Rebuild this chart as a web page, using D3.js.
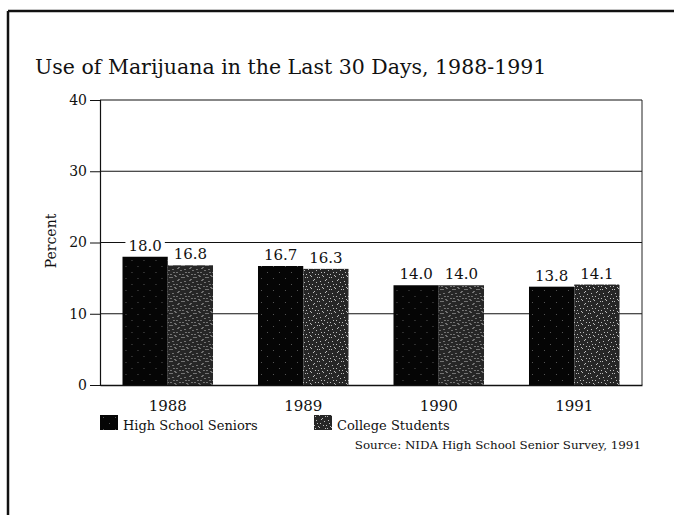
<!DOCTYPE html>
<html>
<head>
<meta charset="utf-8">
<script src="https://cdn.jsdelivr.net/npm/d3@7"></script>
<style>
  html, body { margin: 0; padding: 0; background: #fff; }
  svg { display: block; }
  text { font-family: "DejaVu Serif", "Liberation Serif", serif; fill: #111; }
</style>
</head>
<body>
<svg id="chart" width="674" height="515"></svg>
<script>
// Survey years and the two surveyed groups
const years = ["1988", "1989", "1990", "1991"];
const groups = ["High School Seniors", "College Students"];
// Percent reporting use in the last 30 days
const highSchoolSeniors = [18.0, 16.7, 14.0, 13.8];
const collegeStudents = [16.8, 16.3, 14.0, 14.1];
const yTicks = [0, 10, 20, 30, 40];

const title = "Use of Marijuana in the Last 30 Days, 1988-1991";
const yLabel = "Percent";
const source = "Source:  NIDA High School Senior Survey, 1991";

const svg = d3.select("#chart");
const plot = { left: 100, right: 642, top: 100, bottom: 385 };

// Speckled textures for the two bar fills
const defs = svg.append("defs");
function speckle(id, base, dots, color) {
  const p = defs.append("pattern").attr("id", id)
    .attr("patternUnits", "userSpaceOnUse").attr("width", 12).attr("height", 12);
  p.append("rect").attr("width", 12).attr("height", 12).attr("fill", base);
  dots.forEach(([x, y]) => p.append("rect").attr("x", x).attr("y", y)
    .attr("width", 1).attr("height", 1).attr("fill", color));
}
speckle("hsFill", "#050505", [[3, 2], [9, 8]], "#555");
speckle("csFill", "#262626", [[1, 1], [5, 0], [8, 3], [2, 5], [10, 6], [6, 8], [0, 10], [4, 11], [9, 10], [7, 4], [11, 1], [3, 8]], "#bdbdbd");
const fills = ["url(#hsFill)", "url(#csFill)"];

// Outer frame (top and left edges)
svg.append("line").attr("x1", 8).attr("x2", 674).attr("y1", 11).attr("y2", 11)
  .attr("stroke", "#111").attr("stroke-width", 2.5);
svg.append("line").attr("x1", 8).attr("x2", 8).attr("y1", 11).attr("y2", 515)
  .attr("stroke", "#111").attr("stroke-width", 2.5);

const x0 = d3.scaleBand().domain(years).range([plot.left, plot.right])
  .paddingInner(0.332).paddingOuter(0.166);
const x1 = d3.scaleBand().domain(groups).range([0, x0.bandwidth()]);
const y = d3.scaleLinear().domain([0, 40]).range([plot.bottom, plot.top]);

// Horizontal rules at each tick
svg.append("g").selectAll("line").data(yTicks.slice(1)).join("line")
  .attr("x1", plot.left).attr("x2", plot.right)
  .attr("y1", d => y(d)).attr("y2", d => y(d))
  .attr("stroke", "#111").attr("stroke-width", 1.2);

// Right edge of the plot box
svg.append("line").attr("x1", plot.right).attr("x2", plot.right)
  .attr("y1", y(40)).attr("y2", y(0)).attr("stroke", "#222").attr("stroke-width", 1);

// Bars
const rows = years.map((yr, i) => ({ year: yr, values: [highSchoolSeniors[i], collegeStudents[i]] }));
const grp = svg.append("g").selectAll("g").data(rows).join("g")
  .attr("transform", d => `translate(${x0(d.year)},0)`);
grp.selectAll("rect.bar").data(d => d.values.map((v, k) => ({ v, k }))).join("rect")
  .attr("class", "bar")
  .attr("x", d => x1(groups[d.k])).attr("width", x1.bandwidth())
  .attr("y", d => y(d.v)).attr("height", d => y(0) - y(d.v))
  .attr("fill", d => fills[d.k]);

// Value labels on a white backing so rules are knocked out behind them
const labels = grp.selectAll("g.lab").data(d => d.values.map((v, k) => ({ v, k }))).join("g")
  .attr("class", "lab");
labels.append("text")
  .attr("x", d => x1(groups[d.k]) + x1.bandwidth() / 2)
  .attr("y", d => y(d.v) - 6)
  .attr("text-anchor", "middle").attr("font-size", 15)
  .text(d => d.v.toFixed(1));
labels.each(function () {
  const g = d3.select(this);
  const b = g.select("text").node().getBBox();
  g.insert("rect", "text").attr("x", b.x - 3).attr("y", b.y).attr("width", b.width + 6)
    .attr("height", b.height).attr("fill", "#fff");
});

// Y axis with ticks pointing left
const yAxis = svg.append("g").attr("transform", `translate(${plot.left},0)`)
  .call(d3.axisLeft(y).tickValues(yTicks).tickSize(10).tickPadding(3));
yAxis.select(".domain").attr("stroke", "#111").attr("stroke-width", 1.2);
yAxis.selectAll(".tick line").attr("stroke", "#111");
yAxis.selectAll(".tick text").attr("font-size", 14).attr("font-family", "DejaVu Serif").attr("fill", "#111");

// Baseline and year labels
const xAxis = svg.append("g").attr("transform", `translate(0,${plot.bottom})`)
  .call(d3.axisBottom(x0).tickSize(0).tickPadding(15));
xAxis.select(".domain").attr("stroke", "#111").attr("stroke-width", 1.5);
xAxis.selectAll(".tick text").attr("font-size", 15).attr("font-family", "DejaVu Serif").attr("fill", "#111");

// Y axis title
svg.append("text").attr("transform", "translate(56,241) rotate(-90)")
  .attr("text-anchor", "middle").attr("font-size", 14).text(yLabel);

// Chart title
svg.append("text").attr("x", 35).attr("y", 74).attr("font-size", 20.5).text(title);

// Legend
const legendX = [100, 314];
const leg = svg.append("g").selectAll("g").data(groups).join("g")
  .attr("transform", (d, i) => `translate(${legendX[i]},415)`);
leg.append("rect").attr("width", 18).attr("height", 15).attr("fill", (d, i) => fills[i]);
leg.append("text").attr("x", 23).attr("y", 15).attr("font-size", 13).text(d => d);

// Source note
svg.append("text").attr("x", 641).attr("y", 449).attr("text-anchor", "end")
  .attr("font-size", 11.9).text(source);
</script>
</body>
</html>
